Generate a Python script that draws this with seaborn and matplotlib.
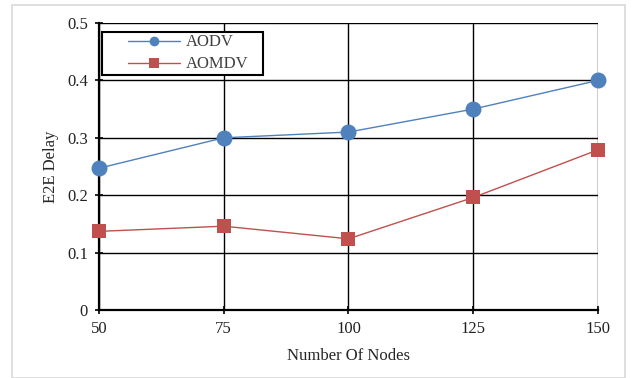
import matplotlib
matplotlib.use("Agg")
import matplotlib.pyplot as plt
import seaborn as sns
import pandas as pd
from matplotlib.patches import Rectangle
from matplotlib.lines import Line2D
from matplotlib.legend_handler import HandlerLine2D

nodes = [50, 75, 100, 125, 150]
aodv = [0.247, 0.300, 0.310, 0.350, 0.400]
aomdv = [0.137, 0.146, 0.124, 0.196, 0.279]
series_names = ["AODV", "AOMDV"]
y_ticks = [0, 0.1, 0.2, 0.3, 0.4, 0.5]
y_tick_labels = ["0", "0.1", "0.2", "0.3", "0.4", "0.5"]

df = pd.DataFrame({
    "Number Of Nodes": nodes * 2,
    "E2E Delay": aodv + aomdv,
    "Protocol": [series_names[0]] * len(nodes) + [series_names[1]] * len(nodes),
})

sns.set_style("white")
plt.rcParams["font.family"] = ["Liberation Serif", "DejaVu Serif"]

fig = plt.figure(figsize=(6.33, 3.78), dpi=100)
ax = fig.add_axes([0.1564, 0.1799, 0.7883, 0.7593])

palette = {"AODV": "#4F81BD", "AOMDV": "#C0504D"}
markers = {"AODV": "o", "AOMDV": "s"}
sizes = {"AODV": 11.5, "AOMDV": 10.5}
legend_sizes = {"AODV": 7.0, "AOMDV": 6.5}

for name in series_names:
    sub = df[df["Protocol"] == name]
    sns.lineplot(data=sub, x="Number Of Nodes", y="E2E Delay", ax=ax,
                 color=palette[name], marker=markers[name],
                 markersize=sizes[name], markeredgewidth=0,
                 linewidth=1.0, label=name, zorder=3, clip_on=False)

ax.set_xlim(50, 150)
ax.set_ylim(0, 0.5)
ax.set_xticks(nodes)
ax.set_xticklabels([str(n) for n in nodes], fontsize=12)
ax.set_yticks(y_ticks)
ax.set_yticklabels(y_tick_labels, fontsize=12)
ax.grid(True, color="black", linewidth=1.0)
ax.set_axisbelow(True)

for side in ["top", "right"]:
    ax.spines[side].set_visible(False)
for side in ["left", "bottom"]:
    ax.spines[side].set_color("black")
    ax.spines[side].set_linewidth(1.6)
ax.tick_params(axis="both", direction="inout", length=6, width=1.2,
               color="black", labelcolor="#222222", pad=5,
               left=True, bottom=True)

ax.set_xlabel("Number Of Nodes", fontsize=12, labelpad=8)
ax.set_ylabel("E2E Delay", fontsize=12, labelpad=6)


class IndentedLine(HandlerLine2D):
    """Line handler whose sample starts a fixed distance in from the frame."""
    indent = 17.0  # points

    def create_artists(self, legend, orig_handle, xdescent, ydescent,
                       width, height, fontsize, trans):
        artists = super().create_artists(legend, orig_handle,
                                         xdescent - self.indent, ydescent,
                                         width - self.indent, height,
                                         fontsize, trans)
        label = orig_handle.get_label()
        for a in artists:
            if label in legend_sizes:
                a.set_markersize(legend_sizes[label])
        return artists


# legend frame drawn separately so it can carry extra room on the right
ax.add_patch(Rectangle((0.006, 0.8188), 0.3227, 0.1498,
                       transform=ax.transAxes, facecolor="white",
                       edgecolor="black", linewidth=1.5, clip_on=False,
                       zorder=4))

leg = ax.legend(loc="upper left", bbox_to_anchor=(0.006, 0.969),
                fontsize=12, frameon=False,
                handlelength=4.53, borderpad=0.15, labelspacing=0.36,
                handletextpad=0.36, borderaxespad=0.0,
                handler_map={Line2D: IndentedLine()})
leg.set_zorder(5)
for t in leg.get_texts():
    t.set_color("#404040")

fig.patches.append(Rectangle((12 / 633, 0.0), 613 / 633, 1 - 5 / 378,
                             transform=fig.transFigure, fill=False,
                             edgecolor="#D9D9D9", linewidth=1.2))

fig.savefig("out.png", dpi=100)
